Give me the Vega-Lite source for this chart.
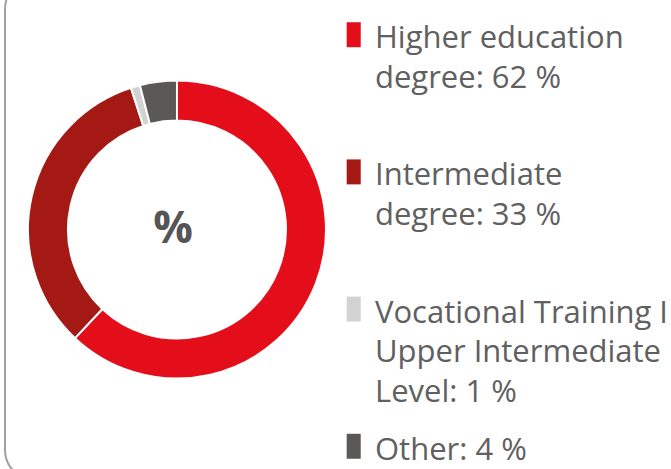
{
  "$schema": "https://vega.github.io/schema/vega-lite/v6.json",
  "autosize": {"type": "none"},
  "padding": {"left": 5, "top": -21, "right": -14, "bottom": -11},
  "width": 680,
  "height": 501,
  "background": "white",
  "view": {"stroke": "#a0a0a0", "strokeWidth": 2, "cornerRadius": 30, "fill": "white"},
  "data": {
    "values": [
      {"rank": 1, "category": "Higher education degree", "share": 62, "label": "Higher education\ndegree: 62 %"},
      {"rank": 2, "category": "Intermediate degree", "share": 33, "label": "Intermediate\ndegree: 33 %"},
      {"rank": 3, "category": "Vocational Training I Upper Intermediate Level", "share": 1, "label": "Vocational Training I\nUpper Intermediate\nLevel: 1 %"},
      {"rank": 4, "category": "Other", "share": 4, "label": "Other: 4 %"}
    ]
  },
  "layer": [
    {
      "mark": {"type": "arc", "innerRadius": 109, "outerRadius": 149, "stroke": "white", "strokeWidth": 2},
      "encoding": {
        "theta": {"field": "share", "type": "quantitative", "stack": true},
        "order": {"field": "rank", "type": "quantitative", "sort": "ascending"},
        "color": {
          "field": "category", "type": "nominal",
          "scale": {
            "domain": ["Higher education degree", "Intermediate degree", "Vocational Training I Upper Intermediate Level", "Other"],
            "range": ["#e30e19", "#a51915", "#d2d2d2", "#5a5958"]
          },
          "legend": null
        },
        "x": {"datum": 0.2529, "type": "quantitative", "scale": {"domain": [0, 1], "nice": false, "zero": false}, "axis": null}
      }
    },
    {
      "data": {"values": [{"symbol": "%"}]},
      "mark": {"type": "text", "fontSize": 44, "fontWeight": "bold", "font": "Open Sans", "color": "#555555", "baseline": "middle", "align": "center", "dx": -4},
      "encoding": {
        "text": {"field": "symbol"},
        "x": {"datum": 0.2529, "type": "quantitative"}
      }
    },
    {
      "mark": {"type": "point", "shape": "M-0.27,-1L0.27,-1L0.27,-0.04L-0.27,-0.04Z", "size": 2704, "filled": true, "opacity": 1, "strokeWidth": 0},
      "encoding": {
        "x": {"datum": 0.5128, "type": "quantitative"},
        "y": {
          "field": "category", "type": "nominal",
          "sort": ["Higher education degree", "Intermediate degree", "Vocational Training I Upper Intermediate Level", "Other"],
          "scale": {"type": "point", "padding": 0.326, "align": 0.774},
          "axis": null
        },
        "color": {"field": "category", "type": "nominal", "legend": null}
      }
    },
    {
      "mark": {"type": "text", "align": "left", "baseline": "alphabetic", "lineBreak": "\n", "lineHeight": 39.5, "fontSize": 31, "font": "Open Sans", "fontWeight": "normal", "color": "#606060"},
      "encoding": {
        "text": {"field": "label"},
        "x": {"datum": 0.5441, "type": "quantitative"},
        "y": {
          "field": "category", "type": "nominal",
          "sort": ["Higher education degree", "Intermediate degree", "Vocational Training I Upper Intermediate Level", "Other"],
          "axis": null
        }
      }
    }
  ]
}
